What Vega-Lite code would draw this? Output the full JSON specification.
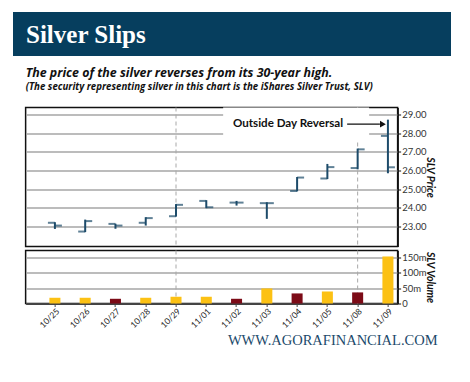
{
  "$schema": "https://vega.github.io/schema/vega-lite/v6.json",
  "background": "white",
  "padding": {"left": 13, "top": 12, "right": 0, "bottom": 0},
  "config": {"font": "Lato", "view": {"stroke": null}},
  "datasets": {
    "slv": [
      {"date": "10/25", "open": 23.20, "high": 23.23, "low": 22.87, "close": 23.05, "vol": 18.6, "dir": "up"},
      {"date": "10/26", "open": 22.73, "high": 23.37, "low": 22.70, "close": 23.29, "vol": 18.6, "dir": "up"},
      {"date": "10/27", "open": 23.14, "high": 23.15, "low": 22.88, "close": 23.05, "vol": 15.3, "dir": "down"},
      {"date": "10/28", "open": 23.20, "high": 23.50, "low": 23.05, "close": 23.45, "vol": 18.6, "dir": "up"},
      {"date": "10/29", "open": 23.55, "high": 24.20, "low": 23.53, "close": 24.16, "vol": 21.9, "dir": "up"},
      {"date": "11/01", "open": 24.37, "high": 24.41, "low": 23.98, "close": 24.03, "vol": 21.9, "dir": "up"},
      {"date": "11/02", "open": 24.28, "high": 24.37, "low": 24.12, "close": 24.28, "vol": 15.3, "dir": "down"},
      {"date": "11/03", "open": 24.25, "high": 24.30, "low": 23.41, "close": 24.25, "vol": 49.0, "dir": "up"},
      {"date": "11/04", "open": 24.90, "high": 25.65, "low": 24.88, "close": 25.62, "vol": 32.7, "dir": "down"},
      {"date": "11/05", "open": 25.57, "high": 26.35, "low": 25.54, "close": 26.18, "vol": 39.0, "dir": "up"},
      {"date": "11/08", "open": 26.13, "high": 27.17, "low": 26.06, "close": 27.13, "vol": 36.0, "dir": "down"},
      {"date": "11/09", "open": 27.85, "high": 28.72, "low": 25.85, "close": 26.17, "vol": 152.6, "dir": "up"}
    ],
    "marks": [{"date": "10/29"}, {"date": "11/08"}],
    "note": [{"label": "Outside Day Reversal", "from": "11/02", "to": "11/08", "tip": "11/09", "ylo": 27.63, "yhi": 29.37, "y": 28.48}]
  },
  "spacing": 9.5,
  "center": true,
  "vconcat": [
    {
      "width": 438,
      "height": 44,
      "data": {"values": [{"t": "Silver Slips"}]},
      "view": {"fill": "#063e5e", "stroke": null},
      "title": {"text": "Silver Slips", "orient": "top", "anchor": "start", "frame": "group", "offset": -36, "dx": 13, "font": "Liberation Serif", "fontSize": 25, "fontWeight": "bold", "color": "white"},
      "mark": {"type": "rect", "color": "#063e5e"},
      "encoding": {}
    },
    {
      "spacing": 0,
      "vconcat": [
        {
          "width": 372,
          "height": 139,
          "view": {"stroke": "#111", "strokeWidth": 1.5},
          "title": {"text": "The price of the silver reverses from its 30-year high.", "subtitle": "(The security representing silver in this chart is the iShares Silver Trust, SLV)", "anchor": "start", "frame": "group", "font": "Open Sans", "fontSize": 12.4, "fontWeight": "bold", "fontStyle": "italic", "color": "#111", "subtitleFont": "Open Sans", "subtitleFontSize": 9.7, "subtitleFontWeight": "bold", "subtitleFontStyle": "italic", "subtitleColor": "#111", "subtitlePadding": 3, "offset": 15},
          "layer": [
            {
              "data": {"name": "marks"},
              "mark": {"type": "rule", "color": "#a8a8a8", "strokeDash": [4, 3], "strokeWidth": 1},
              "encoding": {
                "x": {"field": "date", "type": "ordinal", "axis": null, "scale": {"type": "band", "domain": ["10/25", "10/26", "10/27", "10/28", "10/29", "11/01", "11/02", "11/03", "11/04", "11/05", "11/08", "11/09"], "paddingInner": 0.636, "paddingOuter": 0.462, "align": 0.85, "round": false}}
              }
            },
            {
              "data": {"name": "note"},
              "mark": {"type": "rect", "color": "white", "xOffset": -13.4, "x2Offset": 11.5},
              "encoding": {
                "x": {"field": "from", "type": "ordinal", "bandPosition": 0.5},
                "x2": {"field": "to"},
                "y": {"field": "ylo", "type": "quantitative", "scale": {"domain": [21.93, 29.37], "nice": false, "zero": false},
                  "axis": {"orient": "right", "values": [23, 24, 25, 26, 27, 28, 29], "tickCount": 7, "format": ".2f", "labelOverlap": false, "grid": true, "gridColor": "#a6a6a6", "gridWidth": 1.3, "domainColor": "#111", "domainWidth": 1.5, "tickColor": "#111", "tickSize": 3, "labelPadding": 1, "labelFont": "Lato", "labelFontSize": 9.5, "labelColor": "#333", "title": "SLV Price", "titleAngle": 90, "titleFont": "Lato", "titleFontSize": 10.5, "titleFontWeight": "bold", "titleFontStyle": "italic", "titleColor": "#111", "titlePadding": 0, "minExtent": 27, "maxExtent": 27}},
                "y2": {"field": "yhi"}
              }
            },
            {
              "data": {"name": "slv"},
              "mark": {"type": "rule", "color": "#1d4b6a", "strokeWidth": 2},
              "encoding": {
                "x": {"field": "date", "type": "ordinal"},
                "y": {"field": "low", "type": "quantitative"},
                "y2": {"field": "high"}
              }
            },
            {
              "data": {"name": "slv"},
              "mark": {"type": "tick", "color": "#1d4b6a", "thickness": 2, "size": 7, "xOffset": -3.5},
              "encoding": {
                "x": {"field": "date", "type": "ordinal"},
                "y": {"field": "open", "type": "quantitative"}
              }
            },
            {
              "data": {"name": "slv"},
              "mark": {"type": "tick", "color": "#1d4b6a", "thickness": 2, "size": 7, "xOffset": 3.5},
              "encoding": {
                "x": {"field": "date", "type": "ordinal"},
                "y": {"field": "close", "type": "quantitative"}
              }
            },
            {
              "data": {"name": "note"},
              "mark": {"type": "rule", "color": "#111", "strokeWidth": 1.2, "xOffset": -10.5, "x2Offset": -8},
              "encoding": {
                "x": {"field": "to", "type": "ordinal"},
                "x2": {"field": "tip"},
                "y": {"field": "y", "type": "quantitative"}
              }
            },
            {
              "data": {"name": "note"},
              "mark": {"type": "point", "shape": "triangle-right", "filled": true, "color": "#111", "opacity": 1, "size": 45, "xOffset": -5},
              "encoding": {
                "x": {"field": "tip", "type": "ordinal"},
                "y": {"field": "y", "type": "quantitative"}
              }
            },
            {
              "data": {"name": "note"},
              "mark": {"type": "text", "align": "right", "baseline": "middle", "dx": -14.5, "font": "Lato", "fontSize": 11.6, "fontWeight": "bold", "color": "#111"},
              "encoding": {
                "x": {"field": "to", "type": "ordinal"},
                "y": {"field": "y", "type": "quantitative"},
                "text": {"field": "label"}
              }
            }
          ]
        },
        {
          "width": 372,
          "height": 53,
          "view": {"stroke": "#111", "strokeWidth": 1.5},
          "title": {"text": "WWW.AGORAFINANCIAL.COM", "orient": "bottom", "anchor": "end", "frame": "bounds", "font": "Liberation Serif", "fontSize": 14.5, "fontWeight": "normal", "color": "#1c4a6b", "offset": 5, "dx": 3},
          "layer": [
            {
              "data": {"name": "marks"},
              "mark": {"type": "rule", "color": "#a8a8a8", "strokeDash": [4, 3], "strokeWidth": 1},
              "encoding": {
                "x": {"field": "date", "type": "ordinal", "scale": {"type": "band", "domain": ["10/25", "10/26", "10/27", "10/28", "10/29", "11/01", "11/02", "11/03", "11/04", "11/05", "11/08", "11/09"], "paddingInner": 0.636, "paddingOuter": 0.462, "align": 0.85, "round": false},
                  "axis": {"labelAngle": -45, "labelFont": "Lato", "labelFontSize": 8.5, "labelColor": "#222", "tickSize": 3, "tickColor": "#444", "domainColor": "#444", "domainWidth": 2, "labelPadding": 0, "title": null, "grid": false}}
              }
            },
            {
              "data": {"name": "slv"},
              "mark": {"type": "bar"},
              "encoding": {
                "x": {"field": "date", "type": "ordinal"},
                "y": {"field": "vol", "type": "quantitative", "scale": {"domain": [0, 172], "nice": false},
                  "axis": {"orient": "right", "values": [0, 50, 100, 150], "tickCount": 4, "labelExpr": "datum.value == 0 ? '0' : datum.value + 'm'", "labelOverlap": false, "grid": true, "gridColor": "#a6a6a6", "gridWidth": 1.3, "domainColor": "#111", "domainWidth": 1.5, "tickColor": "#111", "tickSize": 3, "labelPadding": 1, "labelFont": "Lato", "labelFontSize": 9.5, "labelColor": "#333", "title": "SLV Volume", "titleAngle": 90, "titleFont": "Lato", "titleFontSize": 10.5, "titleFontWeight": "bold", "titleFontStyle": "italic", "titleColor": "#111", "titlePadding": 0, "minExtent": 27, "maxExtent": 27}},
                "color": {"field": "dir", "type": "nominal", "scale": {"domain": ["up", "down"], "range": ["#fcc114", "#7c0b17"]}, "legend": null}
              }
            }
          ]
        }
      ]
    }
  ]
}
